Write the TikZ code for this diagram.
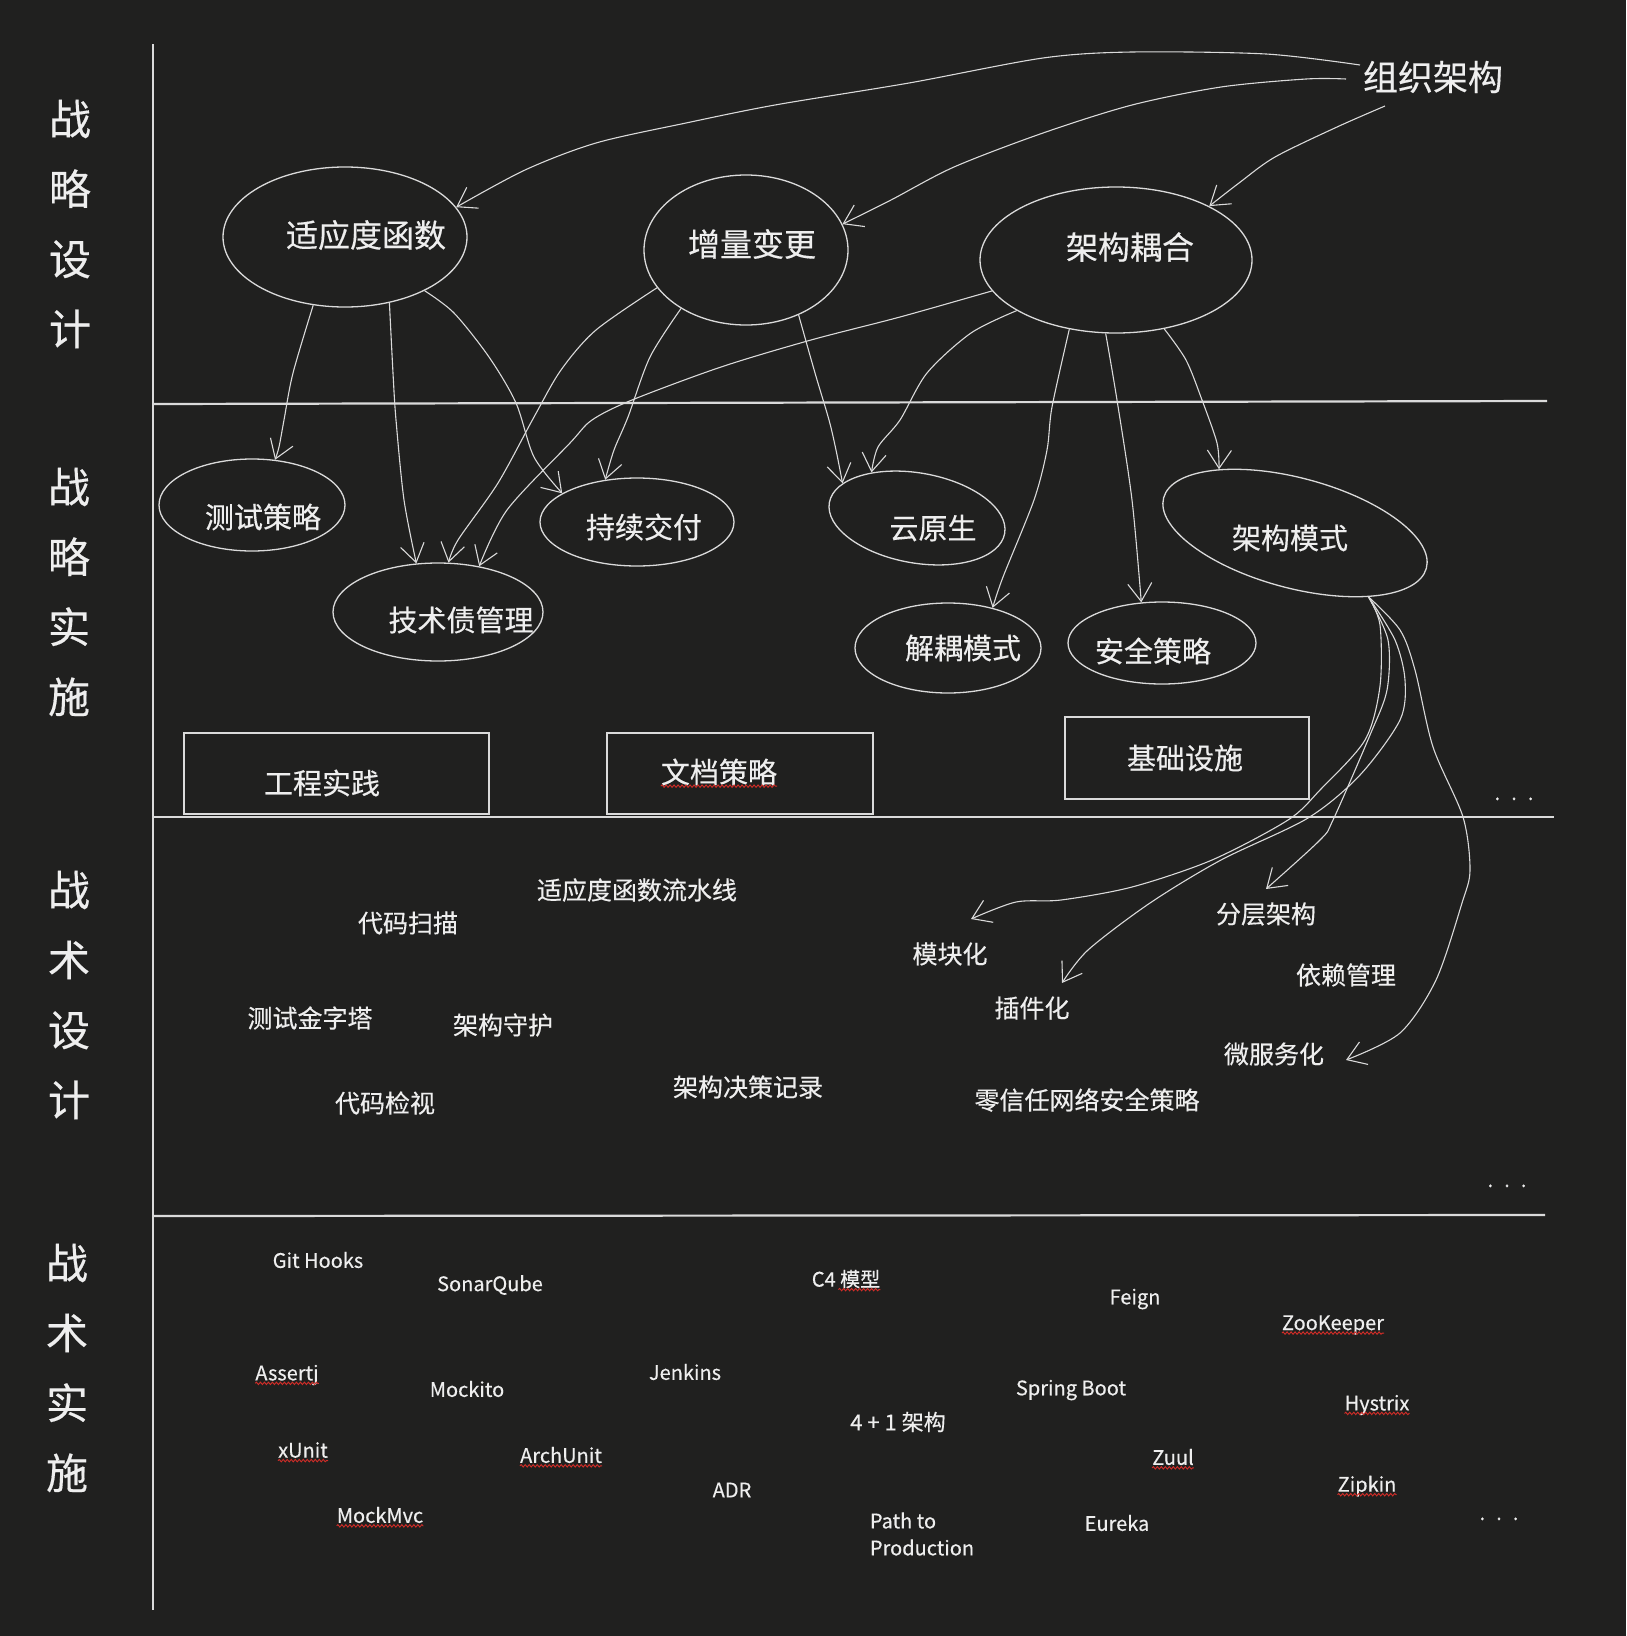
\documentclass[tikz,border=0pt]{standalone}
\usepackage{fontspec}
\setmainfont{Noto Sans CJK SC}[FakeBold=0.35]
\usepackage{tikz}
\usetikzlibrary{positioning,arrows.meta,shapes.geometric,decorations.pathmorphing}
\usepackage{xcolor}
\definecolor{bg}{RGB}{32,32,31}
\definecolor{ink}{RGB}{238,238,238}
\definecolor{linec}{RGB}{218,218,218}
\definecolor{squigred}{RGB}{210,45,40}

\begin{document}
\begin{tikzpicture}[x=1pt, y=-1pt,
  every node/.style={text=ink, inner sep=0pt},
  lvlfont/.style={align=center, font=\fontsize{42}{70}\selectfont},
  bigfont/.style={font=\fontsize{32}{32}\selectfont},
  orgfont/.style={font=\fontsize{35}{35}\selectfont},
  midfont/.style={font=\fontsize{29}{29}\selectfont},
  itemfont/.style={font=\fontsize{25}{25}\selectfont},
  toolfont/.style={font=\fontsize{20}{27}\selectfont},
  bubble/.style={draw=linec, line width=1.3pt, ellipse},
  boxed/.style={draw=linec, line width=1.6pt},
  sepline/.style={draw=linec, line width=2.2pt},
  handarrow/.style={draw=linec, line width=1.1pt, -{Straight Barb[length=18pt, width=24pt]}},
  squig/.style={draw=squigred, line width=0.9pt, decorate, decoration={snake, amplitude=1.2pt, segment length=4pt}}]
\useasboundingbox (0,0) rectangle (1626,1636);
\fill[bg] (0,0) rectangle (1626,1636);

% 分隔线
\draw[sepline] (153,44) -- (153,1610);
\draw[sepline] (153,404) -- (1547,401);
\draw[sepline] (153,817) -- (1554,817);
\draw[sepline] (153,1216) -- (1545,1215);

% 左侧
\node[lvlfont] (lv1) at (70,224) {战\\略\\设\\计};
\node[lvlfont] (lv2) at (69,592) {战\\略\\实\\施};
\node[lvlfont] (lv3) at (69,995) {战\\术\\设\\计};
\node[lvlfont] (lv4) at (67,1368) {战\\术\\实\\施};

% 战略设计
\node[orgfont] (org) at (1433,77) {组织架构};
\node[bubble, minimum width=244pt, minimum height=140pt] (fitness) at (345,237) {};
\node[bigfont] (t-fitness) at (366,235) {适应度函数};
\node[bubble, minimum width=204pt, minimum height=150pt] (incr) at (746,250) {};
\node[bigfont] (t-incr) at (752,244) {增量变更};
\node[bubble, minimum width=272pt, minimum height=146pt] (coupling) at (1116,260) {};
\node[bigfont] (t-coupling) at (1130,247) {架构耦合};

% 战略实施
\node[bubble, minimum width=186pt, minimum height=92pt] (strat) at (252,505) {};
\node[midfont] (t-strat) at (263,517) {测试策略};
\node[bubble, minimum width=210pt, minimum height=98pt] (debt) at (438,612) {};
\node[midfont] (t-debt) at (461,620) {技术债管理};
\node[bubble, minimum width=194pt, minimum height=88pt] (cd) at (637,522) {};
\node[midfont] (t-cd) at (644,527) {持续交付};
\node[bubble, minimum width=178pt, minimum height=90pt, rotate=-10] (cloud) at (917,518) {};
\node[midfont] (t-cloud) at (933,528) {云原生};
\node[bubble, minimum width=272pt, minimum height=110pt, rotate=-15] (pattern) at (1295,533) {};
\node[midfont] (t-pattern) at (1290,538) {架构模式};
\node[bubble, minimum width=186pt, minimum height=90pt] (decouple) at (948,648) {};
\node[midfont] (t-decouple) at (963,648) {解耦模式};
\node[bubble, minimum width=188pt, minimum height=82pt] (security) at (1162,643) {};
\node[midfont] (t-security) at (1153,651) {安全策略};

\node[boxed, minimum width=305pt, minimum height=81pt] (practice) at (336.5,773.5) {};
\node[midfont] (t-practice) at (322,783) {工程实践};
\node[boxed, minimum width=266pt, minimum height=81pt] (doc) at (740,773.5) {};
\node[midfont] (t-doc) at (719,772) {文档策略};
\node[boxed, minimum width=244pt, minimum height=82pt] (infra) at (1187,758) {};
\node[midfont] (t-infra) at (1185,758) {基础设施};
\node[toolfont, anchor=base] (more1) at (1514,800) {.\hspace{11pt}.\hspace{11pt}.};

% 战术设计
\node[itemfont] (pipeline) at (637,890) {适应度函数流水线};
\node[itemfont] (scan) at (408,923) {代码扫描};
\node[itemfont] (modular) at (950,954) {模块化};
\node[itemfont] (layered) at (1266,914) {分层架构};
\node[itemfont] (depmgmt) at (1346,975) {依赖管理};
\node[itemfont] (plugin) at (1032,1008) {插件化};
\node[itemfont] (pyramid) at (310,1018) {测试金字塔};
\node[itemfont] (guard) at (503,1025) {架构守护};
\node[itemfont] (micro) at (1274,1054) {微服务化};
\node[itemfont] (adrs) at (748,1087) {架构决策记录};
\node[itemfont] (zerotrust) at (1087,1100) {零信任网络安全策略};
\node[itemfont] (review) at (385,1103) {代码检视};
\node[toolfont, anchor=base] (more2) at (1507,1187) {.\hspace{11pt}.\hspace{11pt}.};

% 战术实施
\node[toolfont] (githooks) at (318,1260) {Git Hooks};
\node[toolfont] (sonar) at (490,1285) {SonarQube};
\node[toolfont] (c4) at (846,1279) {C4 模型};
\node[toolfont] (feign) at (1135,1299) {Feign};
\node[toolfont] (zk) at (1333,1325) {ZooKeeper};
\node[toolfont] (assertj) at (287,1375) {Assertj};
\node[toolfont] (mockito) at (467,1389) {Mockito};
\node[toolfont] (jenkins) at (685,1372) {Jenkins};
\node[toolfont] (springboot) at (1071,1390) {Spring Boot};
\node[toolfont] (hystrix) at (1377,1405) {Hystrix};
\node[toolfont, font=\fontsize{22}{22}\selectfont] (fourplus) at (898,1422) {4 + 1 架构};
\node[toolfont] (xunit) at (303,1450) {xUnit};
\node[toolfont] (archunit) at (561,1455) {ArchUnit};
\node[toolfont] (zuul) at (1173,1457) {Zuul};
\node[toolfont] (adr) at (732,1490) {ADR};
\node[toolfont] (zipkin) at (1367,1486) {Zipkin};
\node[toolfont] (mockmvc) at (380,1515) {MockMvc};
\node[toolfont, align=left] (p2p) at (922,1534) {Path to\\Production};
\node[toolfont] (eureka) at (1117,1523) {Eureka};
\node[toolfont, anchor=base] (more3) at (1499,1520) {.\hspace{11pt}.\hspace{11pt}.};

% 拼写波浪线
\draw[squig] ([yshift=-3pt]t-doc.base west) -- ([yshift=-3pt]t-doc.base east);
\draw[squig] ([xshift=-42pt,yshift=-3pt]c4.base east) -- ([yshift=-3pt]c4.base east);
\foreach \w in {zk,assertj,hystrix,xunit,archunit,zuul,zipkin,mockmvc}
  \draw[squig] ([yshift=-3pt]\w.base west) -- ([yshift=-3pt]\w.base east);

% 组织架构 -> 战略设计
\draw[handarrow] plot[smooth] coordinates {([shift={(-73,-12)}]org.center) (1266,54) (1132,52) (1043,58) (909,83) (775,105) (686,123) (596,143) (525,170) (fitness.15)};
\draw[handarrow] plot[smooth] coordinates {([shift={(-87,2)}]org.center) (1306,79) (1221,87) (1132,105) (1043,133) (954,167) (891,200) (incr.15)};
\draw[handarrow] plot[smooth] coordinates {([shift={(-48,29)}]org.center) (1337,127) (1275,157) (1239,183) (coupling.30)};

% 战略设计 -> 战略实施
\draw[handarrow] plot[smooth] coordinates {(fitness.-115) (293,373) (284,420) (279,447) (strat.63)};
\draw[handarrow] plot[smooth] coordinates {(fitness.-56) (393,373) (396,420) (404,500) (debt.114)};
\draw[handarrow] plot[smooth] coordinates {(fitness.-34) (454,313) (489,357) (516,403) (534,457) (cd.159)};
\draw[handarrow] plot[smooth] coordinates {(incr.-157) (596,330) (561,370) (534,417) (498,483) (458,540) (debt.78)};
\draw[handarrow] plot[smooth] coordinates {(incr.-138) (650,357) (628,417) (614,450) (cd.127)};
\draw[handarrow] plot[smooth] coordinates {(incr.-51) (815,373) (829,420) (836,450) (cloud.165)};
\draw[handarrow] plot[smooth] coordinates {(coupling.-166) (900,317) (811,340) (721,367) (632,400) (592,420) (570,443) (507,510) (debt.48)};
\draw[handarrow] plot[smooth] coordinates {(coupling.-153) (971,333) (927,373) (900,420) (878,447) (cloud.145)};
\draw[handarrow] plot[smooth] coordinates {(coupling.-124) (1052,407) (1047,450) (1034,500) (1003,577) (decouple.42)};
\draw[handarrow] plot[smooth] coordinates {(coupling.-98) (1117,400) (1132,500) (security.117)};
\draw[handarrow] plot[smooth] coordinates {(coupling.-55) (1186,360) (1202,400) (1217,443) (pattern.155)};

% 架构模式 -> 战术设计
\draw[handarrow] plot[smooth] coordinates {(pattern.-26) (1380,625) (1380,686) (1365,740) (1320,790) (1288,820) (1212,860) (1132,887) (1061,900) (1016,902) ([shift={(21,-35)}]modular.center)};
\draw[handarrow] plot[smooth] coordinates {(pattern.-26) (1395,640) (1405,680) (1400,720) (1360,775) (1308,818) (1221,860) (1150,903) (1088,950) ([shift={(30,-25)}]plugin.center)};
\draw[handarrow] plot[smooth] coordinates {(pattern.-26) (1388,640) (1387,690) (1370,735) (1333,820) (1320,840) ([shift={(0,-25)}]layered.center)};
\draw[handarrow] plot[smooth] coordinates {(pattern.-26) (1400,630) (1415,670) (1433,747) (1463,817) (1470,870) (1462,903) (1436,980) (1400,1033) ([shift={(72,6)}]micro.center)};
\end{tikzpicture}
\end{document}
